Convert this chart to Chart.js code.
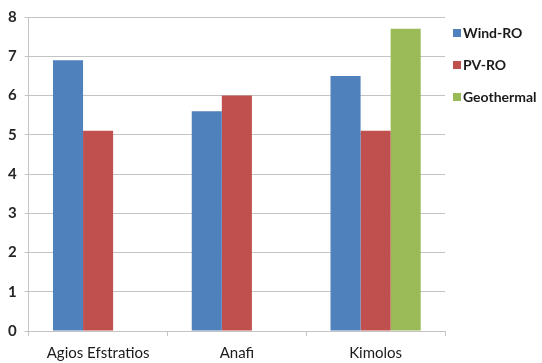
<!DOCTYPE html>
<html>
<head>
<meta charset="utf-8">
<script src="https://cdn.jsdelivr.net/npm/chart.js@4/dist/chart.umd.min.js"></script>
<style>
  html, body { margin: 0; padding: 0; background: #ffffff; }
  #chart { display: block; }
</style>
</head>
<body>
<canvas id="chart" width="542" height="363"></canvas>
<script>
// Islands and the three desalination supply options
const islands = ['Agios Efstratios', 'Anafi', 'Kimolos'];
const windRO = [6.9, 5.6, 6.5];
const pvRO = [5.1, 6.0, 5.1];
const geothermal = [null, null, 7.7];
const yTicks = [0, 1, 2, 3, 4, 5, 6, 7, 8];

const FONT = 'Lato, "Open Sans", sans-serif';
const GRID = '#c4c4c4';

const seriesColors = ['#4F81BD', '#C0504D', '#9BBB59'];

// Legend drawn at the right, with small square keys
const sideLegend = {
  id: 'sideLegend',
  afterDraw(chart) {
    const ctx = chart.ctx;
    const x0 = chart.chartArea.right + 8;
    ctx.save();
    ctx.font = 'bold 14px ' + FONT;
    ctx.textBaseline = 'middle';
    chart.data.datasets.forEach((ds, i) => {
      const y = 33 + i * 32;
      ctx.fillStyle = ds.backgroundColor;
      ctx.fillRect(x0, y - 4, 8, 8);
      ctx.fillStyle = '#1a1a1a';
      ctx.fillText(ds.label, x0 + 10, y);
    });
    ctx.restore();
  }
};

new Chart(document.getElementById('chart'), {
  type: 'bar',
  data: {
    labels: islands,
    datasets: [
      { label: 'Wind-RO', data: windRO, backgroundColor: seriesColors[0] },
      { label: 'PV-RO', data: pvRO, backgroundColor: seriesColors[1] },
      { label: 'Geothermal', data: geothermal, backgroundColor: seriesColors[2] }
    ]
  },
  options: {
    responsive: false,
    animation: false,
    devicePixelRatio: 1,
    layout: { padding: { top: 8, right: 97, left: 0, bottom: 0 } },
    datasets: { bar: { categoryPercentage: 0.65, barPercentage: 1.0 } },
    plugins: {
      legend: { display: false },
      tooltip: { enabled: false }
    },
    scales: {
      x: {
        afterFit(axis) { axis.height = 32; },
        grid: {
          offset: true,
          drawOnChartArea: false,
          drawTicks: true,
          tickLength: 5,
          color: GRID
        },
        border: { color: GRID, width: 1 },
        ticks: {
          color: '#1a1a1a',
          padding: 8,
          maxRotation: 0,
          autoSkip: false,
          font: { family: FONT, size: 15 }
        }
      },
      y: {
        min: 0,
        max: 8,
        afterBuildTicks(axis) { axis.ticks = yTicks.map(v => ({ value: v })); },
        grid: { color: GRID, tickLength: 4 },
        border: { color: GRID, width: 1 },
        ticks: {
          color: '#262626',
          padding: 8,
          font: { family: FONT, size: 15, weight: 'bold' }
        }
      }
    }
  },
  plugins: [sideLegend]
});
</script>
</body>
</html>
